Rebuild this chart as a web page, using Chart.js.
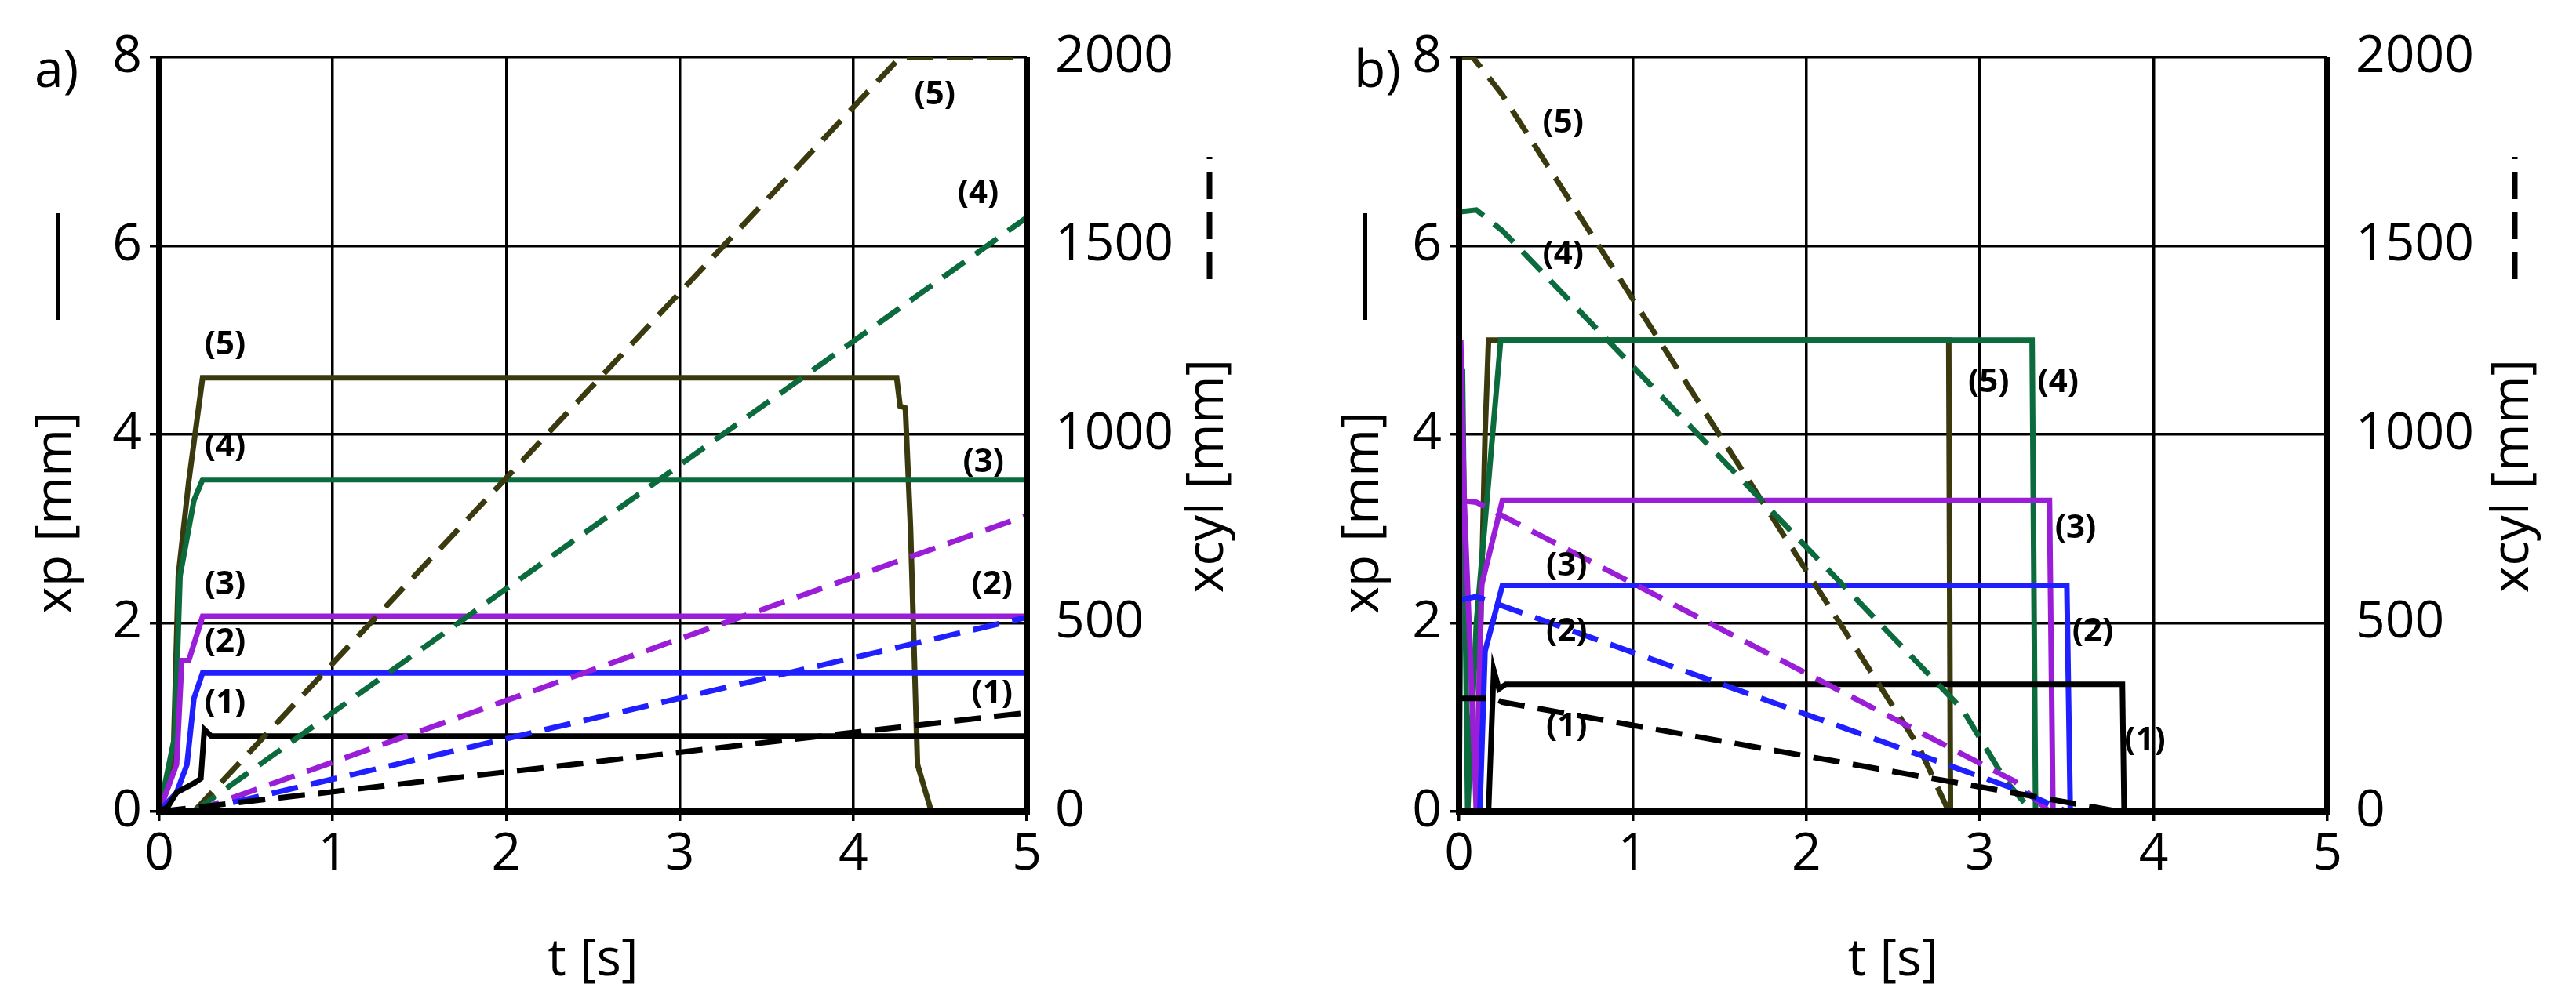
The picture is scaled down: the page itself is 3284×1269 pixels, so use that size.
<!DOCTYPE html>
<html><head><meta charset="utf-8">
<script src="https://cdn.jsdelivr.net/npm/chart.js@4.4.1/dist/chart.umd.min.js"></script>
<style>
html,body{margin:0;padding:0;background:#fff;}
#wrap{position:relative;width:3284px;height:1269px;}
.c{position:absolute;top:0;width:1642px;height:1269px;}
</style></head><body>
<div id="wrap">
<div class="c" style="left:0"><canvas id="ca"></canvas></div>
<div class="c" style="left:1642px"><canvas id="cb"></canvas></div>
</div>
<script>
// ---- data ----
const xTicks = [0,1,2,3,4,5];
const xpTicks = [0,2,4,6,8];
const xcylTicks = [0,500,1000,1500,2000];
const colors = ['#000000','#1f1fff','#9a1ed8','#0b6b3c','#3a3a0e'];

// panel a: xp [mm] (solid, left axis)
const aXp1 = [[0,0],[0.05,0.05],[0.1,0.2],[0.15,0.25],[0.2,0.3],[0.24,0.35],[0.26,0.87],[0.3,0.8],[5,0.8]];
const aXp2 = [[0,0],[0.1,0.2],[0.16,0.5],[0.2,1.2],[0.25,1.47],[5,1.47]];
const aXp3 = [[0,0],[0.1,0.5],[0.13,1.6],[0.17,1.6],[0.25,2.07],[5,2.07]];
const aXp4 = [[0,0],[0.09,0.8],[0.12,2.5],[0.2,3.3],[0.25,3.52],[5,3.52]];
const aXp5 = [[0,0],[0.08,0.5],[0.11,2.5],[0.17,3.5],[0.25,4.6],[4.25,4.6],[4.27,4.3],[4.3,4.28],[4.33,3.0],[4.37,0.5],[4.45,0],[5,0]];
// panel a: xcyl [mm] (dashed, right axis)
const aXc1 = [[0,0],[5,262]];
const aXc2 = [[0.2,0],[5,515]];
const aXc3 = [[0.2,0],[5,785]];
const aXc4 = [[0.2,0],[5,1575]];
const aXc5 = [[0.2,0],[4.27,2000],[5,2000]];

// panel b: xp [mm]
const bXp1 = [[0,0],[0.17,0],[0.2,1.5],[0.23,1.3],[0.27,1.35],[3.82,1.35],[3.83,0],[5,0]];
const bXp2 = [[0,0],[0.12,0],[0.15,1.7],[0.25,2.4],[3.5,2.4],[3.52,0],[5,0]];
const bXp3 = [[0,0],[0.01,5],[0.03,3.3],[0.1,0],[0.13,2.4],[0.25,3.3],[3.4,3.3],[3.42,0],[5,0]];
const bXp4 = [[0,0],[0.02,4.7],[0.05,0],[0.1,2],[0.24,5],[3.3,5],[3.32,0],[5,0]];
const bXp5 = [[0,0],[0.1,0],[0.15,4],[0.17,5],[2.82,5],[2.83,0],[5,0]];
// panel b: xcyl [mm]
const bXc1 = [[0,300],[0.2,300],[0.25,290],[3.8,0],[5,0]];
const bXc2 = [[0,560],[0.1,570],[3.2,60],[3.5,0],[5,0]];
const bXc3 = [[0,825],[0.1,820],[3.2,80],[3.4,0],[5,0]];
const bXc4 = [[0,1590],[0.1,1595],[0.25,1540],[2.9,270],[3.15,80],[3.3,0],[5,0]];
const bXc5 = [[0,2000],[0.08,2000],[0.25,1900],[2.65,170],[2.82,0],[5,0]];

// label positions (t, xp-units)
const aLabels = [['(5)',0.38,4.95],['(4)',0.38,3.87],['(3)',0.38,2.4],['(2)',0.38,1.8],['(1)',0.38,1.15],
  ['(5)',4.47,7.6],['(4)',4.72,6.55],['(3)',4.75,3.7],['(2)',4.8,2.4],['(1)',4.8,1.25]];
const bLabels = [['(5)',0.6,7.3],['(4)',0.6,5.9],['(5)',3.05,4.55],['(4)',3.45,4.55],['(3)',3.55,3.0],
  ['(3)',0.62,2.6],['(2)',0.62,1.9],['(2)',3.65,1.9],['(1)',0.62,0.9],['(1)',3.95,0.75]];

const FONT = "'Open Sans', 'Liberation Sans', sans-serif";
const FS = 66;
const toXY = a => a.map(p => ({x:p[0], y:p[1]}));

function makeChart(id, xp, xc, labels, tag, leftW, rightW, tagX, leftTitleX, rightTitleX){
  const ds = [];
  xc.forEach((d,i)=>ds.push({data:toXY(d),yAxisID:'yr',borderColor:colors[i],borderWidth:7,borderDash:[34,17],pointRadius:0,tension:0,fill:false}));
  xp.forEach((d,i)=>ds.push({data:toXY(d),yAxisID:'y',borderColor:colors[i],borderWidth:7,pointRadius:0,tension:0,fill:false}));
  const deco = {
    id:'deco',
    afterDraw(ch){
      const c = ch.ctx, a = ch.chartArea, sx = ch.scales.x, sy = ch.scales.y;
      c.save();
      c.strokeStyle='#000'; c.lineWidth=8;
      c.beginPath(); c.moveTo(a.left,a.top); c.lineTo(a.left,a.bottom); c.lineTo(a.right,a.bottom); c.lineTo(a.right,a.top); c.stroke();
      c.fillStyle='#000';
      c.font='bold 42px '+FONT; c.textAlign='center'; c.textBaseline='middle';
      labels.forEach(l=>c.fillText(l[0], sx.getPixelForValue(l[1]), sy.getPixelForValue(l[2])));
      c.font=FS+'px '+FONT; c.textAlign='left'; c.textBaseline='middle';
      c.fillText(tag, tagX, 92);
      // left title: text center y=654, line 408..272
      c.save(); c.translate(leftTitleX, 0); c.rotate(-Math.PI/2);
      c.textAlign='center'; c.fillText('xp [mm]', -654, 0);
      c.lineWidth=6; c.beginPath(); c.moveTo(-408,2); c.lineTo(-272,2); c.stroke();
      c.restore();
      // right title: text center y=607, dashed line 356..200
      c.save(); c.translate(rightTitleX, 0); c.rotate(-Math.PI/2);
      c.textAlign='center'; c.fillText('xcyl [mm]', -607, 0);
      c.lineWidth=7; c.setLineDash([34,17]); c.beginPath(); c.moveTo(-356,2); c.lineTo(-200,2); c.stroke();
      c.restore();
      c.restore();
    }
  };
  const grid = {color:'#000',lineWidth:3.5,tickLength:12,drawTicks:true};
  return new Chart(document.getElementById(id),{
    type:'line',
    data:{datasets:ds},
    options:{
      responsive:true, maintainAspectRatio:false, animation:false,
      layout:{padding:{top:73,left:0,right:0,bottom:0}},
      plugins:{legend:{display:false},tooltip:{enabled:false}},
      scales:{
        x:{type:'linear',min:0,max:5,afterBuildTicks:s=>{s.ticks=xTicks.map(v=>({value:v}));},
           grid:grid,border:{display:false},
           ticks:{font:{size:FS,family:FONT},color:'#000',padding:4,callback:v=>String(v)},
           title:{display:true,text:'t [s]',font:{size:FS,family:FONT},color:'#000',padding:{top:0}},
           afterFit:s=>{s.height=234;}},
        y:{position:'left',min:0,max:8,afterBuildTicks:s=>{s.ticks=xpTicks.map(v=>({value:v}));},
           grid:grid,border:{display:false},
           ticks:{font:{size:FS,family:FONT},color:'#000',padding:10,callback:v=>String(v)},
           afterFit:s=>{s.width=leftW;}},
        yr:{position:'right',min:0,max:2000,afterBuildTicks:s=>{s.ticks=xcylTicks.map(v=>({value:v}));},
           grid:{display:false},border:{display:false},
           ticks:{font:{size:FS,family:FONT},color:'#000',padding:28,callback:v=>String(v)},
           afterFit:s=>{s.width=rightW;}}
      }
    },
    plugins:[deco]
  });
}
makeChart('ca',[aXp1,aXp2,aXp3,aXp4,aXp5],[aXc1,aXc2,aXc3,aXc4,aXc5],aLabels,'a)',203,333,44,72,1540);
makeChart('cb',[bXp1,bXp2,bXp3,bXp4,bXp5],[bXc1,bXc2,bXc3,bXc4,bXc5],bLabels,'b)',218,317,84,96,1562);
</script>
</body></html>
